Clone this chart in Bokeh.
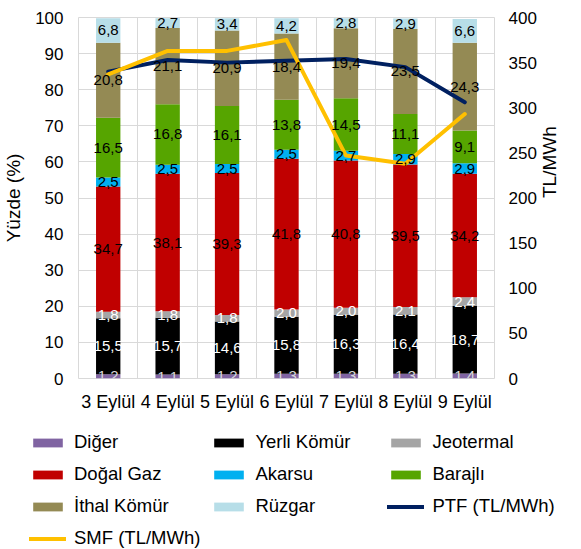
import math
import numpy as np
from bokeh.plotting import figure
from bokeh.layouts import column
from bokeh.models import (ColumnDataSource, Range1d, LinearAxis, FixedTicker,
                          Legend, LegendItem)
from bokeh.core.properties import value
from bokeh.embed import file_html
from bokeh.resources import INLINE

# ---------------- data ----------------
dates = ["3 Eylül", "4 Eylül", "5 Eylül", "6 Eylül", "7 Eylül", "8 Eylül", "9 Eylül"]

diger = [1.2, 1.1, 1.2, 1.3, 1.3, 1.3, 1.4]
yerli_komur = [15.5, 15.7, 14.6, 15.8, 16.3, 16.4, 18.7]
jeotermal = [1.8, 1.8, 1.8, 2.0, 2.0, 2.1, 2.4]
dogal_gaz = [34.7, 38.1, 39.3, 41.8, 40.8, 39.5, 34.2]
akarsu = [2.5, 2.5, 2.5, 2.5, 2.7, 2.9, 2.9]
barajli = [16.5, 16.8, 16.1, 13.8, 14.5, 11.1, 9.1]
ithal_komur = [20.8, 21.1, 20.9, 18.4, 19.4, 23.5, 24.3]
ruzgar = [6.8, 2.7, 3.4, 4.2, 2.8, 2.9, 6.6]

ptf = [340, 353, 350, 352, 354, 345, 306]
smf = [337, 363, 363, 375, 247, 238, 293]

series_names = ["Diğer", "Yerli Kömür", "Jeotermal", "Doğal Gaz", "Akarsu",
                "Barajlı", "İthal Kömür", "Rüzgar"]
series_values = [diger, yerli_komur, jeotermal, dogal_gaz, akarsu, barajli,
                 ithal_komur, ruzgar]
line_names = ["PTF (TL/MWh)", "SMF (TL/MWh)"]
line_values = [ptf, smf]

left_ticks = [0, 10, 20, 30, 40, 50, 60, 70, 80, 90, 100]
right_ticks = [0, 50, 100, 150, 200, 250, 300, 350, 400]

# ---------------- styles ----------------
colors = ["#8064A2", "#000000", "#A5A5A5", "#C00000", "#00B0F0",
          "#56A500", "#948A54", "#B7DEE8"]
label_colors = ["#D9D9D9", "#FFFFFF", "#FFFFFF", "#000000", "#000000",
                "#000000", "#000000", "#000000"]
line_colors = ["#002060", "#FFC000"]
FONT = "Liberation Sans"
TXT = "#000000"
GRID = "#D9D9D9"

n = len(dates)
xs = np.arange(n) + 0.5

p = figure(width=573, height=416, x_range=Range1d(0, n), y_range=Range1d(0, 100),
           output_backend="svg", toolbar_location=None,
           min_border_left=72, min_border_right=74, min_border_top=17,
           min_border_bottom=38)
p.outline_line_color = GRID
p.background_fill_color = "white"
p.border_fill_color = "white"

# grids
p.ygrid.grid_line_color = GRID
p.ygrid.ticker = FixedTicker(ticks=left_ticks)
p.xgrid.grid_line_color = GRID
p.xgrid.ticker = FixedTicker(ticks=list(range(n + 1)))

# axes
for ax in [p.xaxis[0], p.yaxis[0]]:
    ax.axis_line_color = None
    ax.major_tick_line_color = None
    ax.minor_tick_line_color = None
    ax.major_tick_out = 0
    ax.major_tick_in = 0
    ax.major_label_text_font = FONT
    ax.major_label_text_color = TXT
    ax.axis_label_text_font = FONT
    ax.axis_label_text_font_style = "normal"
    ax.axis_label_text_color = TXT

p.xaxis.ticker = FixedTicker(ticks=list(xs))
p.xaxis.major_label_overrides = {float(x): d for x, d in zip(xs, dates)}
p.xaxis.major_label_standoff = 13
p.xaxis.major_label_text_font_size = "18px"

p.yaxis.ticker = FixedTicker(ticks=left_ticks)
p.yaxis.major_label_standoff = 15
p.yaxis.major_label_text_font_size = "17px"
p.yaxis.axis_label = "Yüzde (%)"
p.yaxis.axis_label_text_font_size = "19px"
p.yaxis.axis_label_standoff = 8

p.extra_y_ranges = {"tl": Range1d(0, 400)}
rax = LinearAxis(y_range_name="tl", ticker=FixedTicker(ticks=right_ticks),
                 axis_label="TL/MWh")
rax.axis_line_color = None
rax.major_tick_line_color = None
rax.minor_tick_line_color = None
rax.major_tick_out = 0
rax.major_tick_in = 0
rax.major_label_standoff = 14
rax.major_label_text_font = FONT
rax.major_label_text_font_size = "17px"
rax.major_label_text_color = TXT
rax.axis_label_text_font = FONT
rax.axis_label_text_font_size = "19px"
rax.axis_label_text_font_style = "normal"
rax.axis_label_text_color = TXT
rax.axis_label_standoff = 10
rax.axis_label_orientation = math.pi / 2
p.add_layout(rax, "right")

# stacked bars
data = {"x": xs}
for name, vals in zip(series_names, series_values):
    data[name] = vals
src = ColumnDataSource(data)
p.vbar_stack(series_names, x="x", width=0.41, source=src,
             color=colors, line_color=None)

# lines
for vals, c in zip(line_values, line_colors):
    p.line(xs, vals, y_range_name="tl", line_color=c, line_width=4,
           line_join="round", line_cap="round")

# data labels
lx, ly, lt, lc = [], [], [], []
base = np.zeros(n)
for vals, c in zip(series_values, label_colors):
    v = np.array(vals)
    mid = base + v / 2
    for i in range(n):
        lx.append(xs[i])
        ly.append(mid[i])
        lt.append(f"{vals[i]:.1f}".replace(".", ","))
        lc.append(c)
    base = base + v
lsrc = ColumnDataSource(dict(x=lx, y=ly, t=lt, c=lc))
p.text(x="x", y="y", text="t", text_color="c", source=lsrc,
       text_font=value(FONT), text_font_size="15px", text_align="center",
       text_baseline="middle")

# legend in its own strip below the chart (hidden proxy renderers of the same series)
lf = figure(width=573, height=133, x_range=Range1d(0, n), y_range=Range1d(0, 100),
            output_backend="svg", toolbar_location=None,
            x_axis_type=None, y_axis_type=None,
            min_border_left=0, min_border_right=0, min_border_top=0,
            min_border_bottom=0)
lf.outline_line_color = None
lf.xgrid.visible = False
lf.ygrid.visible = False
for fig in (p, lf):
    try:
        fig.frame_align = False
    except Exception:
        pass
items = []
for nm, vals, c in zip(series_names, series_values, colors):
    r = lf.vbar(x=xs, top=vals, width=0.41, color=c, line_color=None, visible=False)
    items.append(LegendItem(label=nm, renderers=[r]))
for nm, vals, c in zip(line_names, line_values, line_colors):
    r = lf.line(x=xs, y=vals, line_color=c, line_width=4, line_cap="round",
                visible=False)
    items.append(LegendItem(label=nm, renderers=[r]))
legend = Legend(items=items, location=(29, 0), orientation="horizontal",
                ncols=3, glyph_width=37, glyph_height=11, label_standoff=8,
                label_width=122, label_height=22, spacing=10, padding=0,
                margin=0, border_line_alpha=0, background_fill_alpha=0,
                label_text_font=FONT, label_text_font_size="18.5px",
                label_text_color=TXT, click_policy="none")
lf.add_layout(legend, "center")

layout = column(p, lf, spacing=0)
open("out.html", "w").write(file_html(layout, INLINE))
